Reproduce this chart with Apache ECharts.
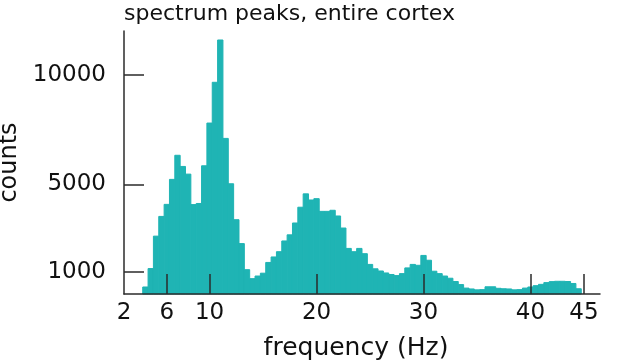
<!DOCTYPE html>
<html>
<head>
<meta charset="utf-8">
<script src="https://cdn.jsdelivr.net/npm/echarts@6/dist/echarts.min.js"></script>
<style>
  html, body { margin: 0; padding: 0; background: #fff; }
  #chart { width: 617px; height: 361px; }
</style>
</head>
<body>
<div id="chart"></div>
<script>
// bin centres (Hz), 0.5 Hz wide bins
var binCenters = [
  4.0, 4.5, 5.0, 5.5, 6.0, 6.5, 7.0, 7.5, 8.0, 8.5, 9.0, 9.5,
  10.0, 10.5, 11.0, 11.5, 12.0, 12.5, 13.0, 13.5, 14.0, 14.5, 15.0, 15.5,
  16.0, 16.5, 17.0, 17.5, 18.0, 18.5, 19.0, 19.5, 20.0, 20.5, 21.0, 21.5,
  22.0, 22.5, 23.0, 23.5, 24.0, 24.5, 25.0, 25.5, 26.0, 26.5, 27.0, 27.5,
  28.0, 28.5, 29.0, 29.5, 30.0, 30.5, 31.0, 31.5, 32.0, 32.5, 33.0, 33.5,
  34.0, 34.5, 35.0, 35.5, 36.0, 36.5, 37.0, 37.5, 38.0, 38.5, 39.0, 39.5,
  40.0, 40.5, 41.0, 41.5, 42.0, 42.5, 43.0, 43.5, 44.0, 44.5
];
// counts per bin
var counts = [
  320, 1160, 2640, 3540, 4090, 5230, 6330, 5820, 5470, 4080, 4130, 5850,
  7800, 9660, 11590, 7100, 5030, 3390, 2300, 1110, 700, 820, 950, 1440,
  1690, 1930, 2420, 2700, 3240, 3960, 4570, 4290, 4350, 3770, 3770, 3820,
  3560, 3010, 2080, 1930, 2080, 1840, 1350, 1150, 1050, 960, 890, 840,
  930, 1190, 1350, 1310, 1760, 1540, 1040, 930, 820, 720, 570, 430,
  270, 230, 190, 200, 330, 330, 260, 240, 230, 190, 200, 270,
  320, 380, 440, 520, 565, 580, 580, 570, 480, 240
];
var xTickValues = [6, 10, 20, 30, 40, 45];
var xLabelValues = [2, 6, 10, 20, 30, 40, 45];
var yTickValues = [1000, 5000, 10000];

var barColor = '#1fb4b4';
var axisColor = '#2b2b2b';
var font = 'DejaVu Sans';
var binHalf = 0.25;

var chart = echarts.init(document.getElementById('chart'));

var histData = binCenters.map(function (f, i) { return [f, counts[i]]; });

var option = {
  animation: false,
  graphic: [{
    type: 'text', left: 124, top: 3,
    style: { text: 'spectrum peaks, entire cortex', fontFamily: font, fontSize: 22, fill: '#111' }
  }],
  grid: { left: 124, right: 17, top: 31, bottom: 67, containLabel: false, outerBoundsMode: 'none' },
  xAxis: {
    type: 'value', min: 2, max: 46.5, z: 5,
    name: 'frequency (Hz)', nameLocation: 'middle', nameGap: 42,
    nameTextStyle: { fontFamily: font, fontSize: 25, color: '#111', padding: [0, 12, 0, 0] },
    axisLine: { show: true, lineStyle: { color: axisColor, width: 1.5 } },
    axisTick: { show: true, inside: true, length: 20, customValues: xTickValues,
      lineStyle: { color: axisColor, width: 1.5 } },
    axisLabel: { customValues: xLabelValues, fontFamily: font, fontSize: 23, color: '#111', margin: 8,
      formatter: function (v) { return String(v); } },
    splitLine: { show: false }
  },
  yAxis: {
    type: 'value', min: 0, max: 12000, z: 5,
    name: 'counts', nameLocation: 'middle', nameGap: 100, nameRotate: 90,
    nameTextStyle: { fontFamily: font, fontSize: 24, color: '#111' },
    axisLine: { show: true, lineStyle: { color: axisColor, width: 1.5 } },
    axisTick: { show: true, inside: true, length: 20, customValues: yTickValues,
      lineStyle: { color: axisColor, width: 1.5 } },
    axisLabel: { customValues: yTickValues, fontFamily: font, fontSize: 23, color: '#111', margin: 18,
      formatter: function (v) { return String(v); } },
    splitLine: { show: false }
  },
  series: [{
    type: 'custom',
    z: 1,
    data: histData,
    renderItem: function (params, api) {
      var x = api.value(0);
      var y = api.value(1);
      var p0 = api.coord([x - binHalf, y]);
      var p1 = api.coord([x + binHalf, 0]);
      return {
        type: 'rect',
        shape: { x: p0[0], y: p0[1], width: p1[0] - p0[0], height: p1[1] - p0[1] },
        style: { fill: barColor, stroke: barColor, lineWidth: 1 }
      };
    }
  }]
};

chart.setOption(option);
</script>
</body>
</html>
